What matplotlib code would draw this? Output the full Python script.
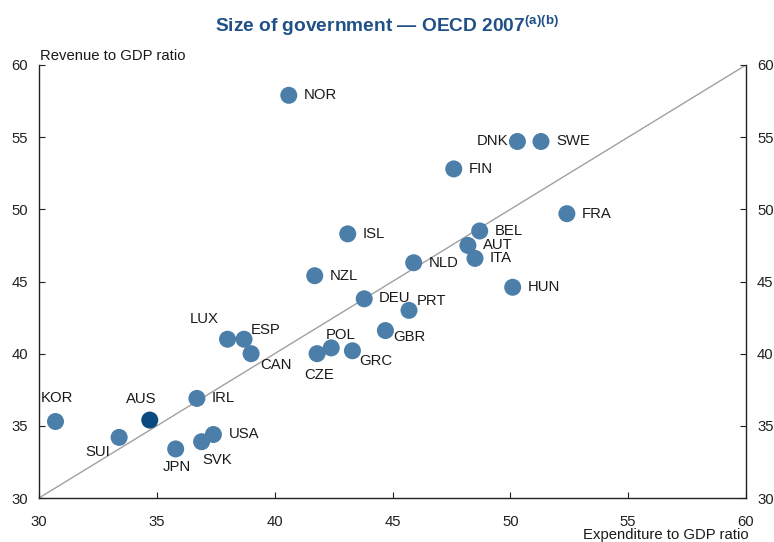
import matplotlib.pyplot as plt

plt.rcParams['font.family'] = ['Liberation Sans', 'DejaVu Sans']
plt.rcParams['mathtext.fontset'] = 'custom'
plt.rcParams['mathtext.bf'] = 'Liberation Sans:bold'
plt.rcParams['mathtext.rm'] = 'Liberation Sans'

# --------------------------------------------------------------
# Data (expenditure, revenue as % of GDP)
# --------------------------------------------------------------
countries = ["NOR", "DNK", "SWE", "FIN", "FRA", "BEL", "AUT", "ITA", "ISL", "NLD",
             "NZL", "HUN", "DEU", "PRT", "GBR", "LUX", "ESP", "CAN", "POL", "CZE",
             "GRC", "IRL", "KOR", "AUS", "SUI", "USA", "SVK", "JPN"]
expenditure = [40.6, 50.3, 51.3, 47.6, 52.4, 48.7, 48.2, 48.5, 43.1, 45.9,
               41.7, 50.1, 43.8, 45.7, 44.7, 38.0, 38.7, 39.0, 42.4, 41.8,
               43.3, 36.7, 30.7, 34.7, 33.4, 37.4, 36.9, 35.8]
revenue = [57.9, 54.7, 54.7, 52.8, 49.7, 48.5, 47.5, 46.6, 48.3, 46.3,
           45.4, 44.6, 43.8, 43.0, 41.6, 41.0, 41.0, 40.0, 40.4, 40.0,
           40.2, 36.9, 35.3, 35.4, 34.2, 34.4, 33.9, 33.4]

# label offsets in pixels (dx, dy, ha)
offsets = {
    "DNK": (-9, 0, "right"), "LUX": (-23, 20, "center"), "ESP": (7, 9, "left"),
    "CAN": (9, -11, "left"), "POL": (9, 13, "center"), "CZE": (2, -21, "center"),
    "GRC": (7, -10, "left"), "KOR": (1, 24, "center"), "AUS": (-9, 21, "center"),
    "SUI": (-9, -15, "right"), "JPN": (1, -18, "center"), "SVK": (1, -18, "left"),
    "PRT": (8, 9, "left"), "GBR": (8, -6, "left"), "DEU": (15, 1, "left"),
}

blue = "#4b7ea8"
dark = "#0b4a80"

fig = plt.figure(figsize=(7.74, 5.42), dpi=100)
ax = fig.add_axes([39 / 774, 44 / 542, 707 / 774, 433 / 542])

ax.plot([30, 60], [30, 60], color="#a0a0a0", lw=1, zorder=1)

colors = [dark if c == "AUS" else blue for c in countries]
ax.scatter(expenditure, revenue, s=150, c=colors, edgecolors="none", zorder=3)

for c, x, y in zip(countries, expenditure, revenue):
    dx, dy, ha = offsets.get(c, (15, 0, "left"))
    ax.annotate(c, (x, y), xytext=(dx * 0.72, dy * 0.72), textcoords="offset points",
                ha=ha, va="center", fontsize=10.7, color="#1a1a1a")

ax.set_xlim(30, 60)
ax.set_ylim(30, 60)
ax.set_xticks([30, 35, 40, 45, 50, 55, 60])
ax.set_yticks([30, 35, 40, 45, 50, 55, 60])
ax.spines["top"].set_visible(False)
for s in ["left", "right", "bottom"]:
    ax.spines[s].set_color("#222222")
    ax.spines[s].set_linewidth(1)
ax.tick_params(direction="in", length=4, labelsize=10.7, colors="#222222",
               right=True, labelright=True, pad=8)
ax.tick_params(axis="x", pad=12)

fig.text(40 / 774, 1 - 56 / 542, "Revenue to GDP ratio", ha="left", va="center",
         fontsize=10.7, color="#1a1a1a")
fig.text(749 / 774, 1 - 535 / 542, "Expenditure to GDP ratio", ha="right", va="center",
         fontsize=10.7, color="#1a1a1a")
fig.text(0.5, 1 - 26 / 542, r"Size of government — OECD 2007$^{\mathbf{(a)(b)}}$",
         ha="center", va="center", fontsize=13.8, fontweight="bold", color="#1f5187")

fig.savefig("out.png", dpi=100)
